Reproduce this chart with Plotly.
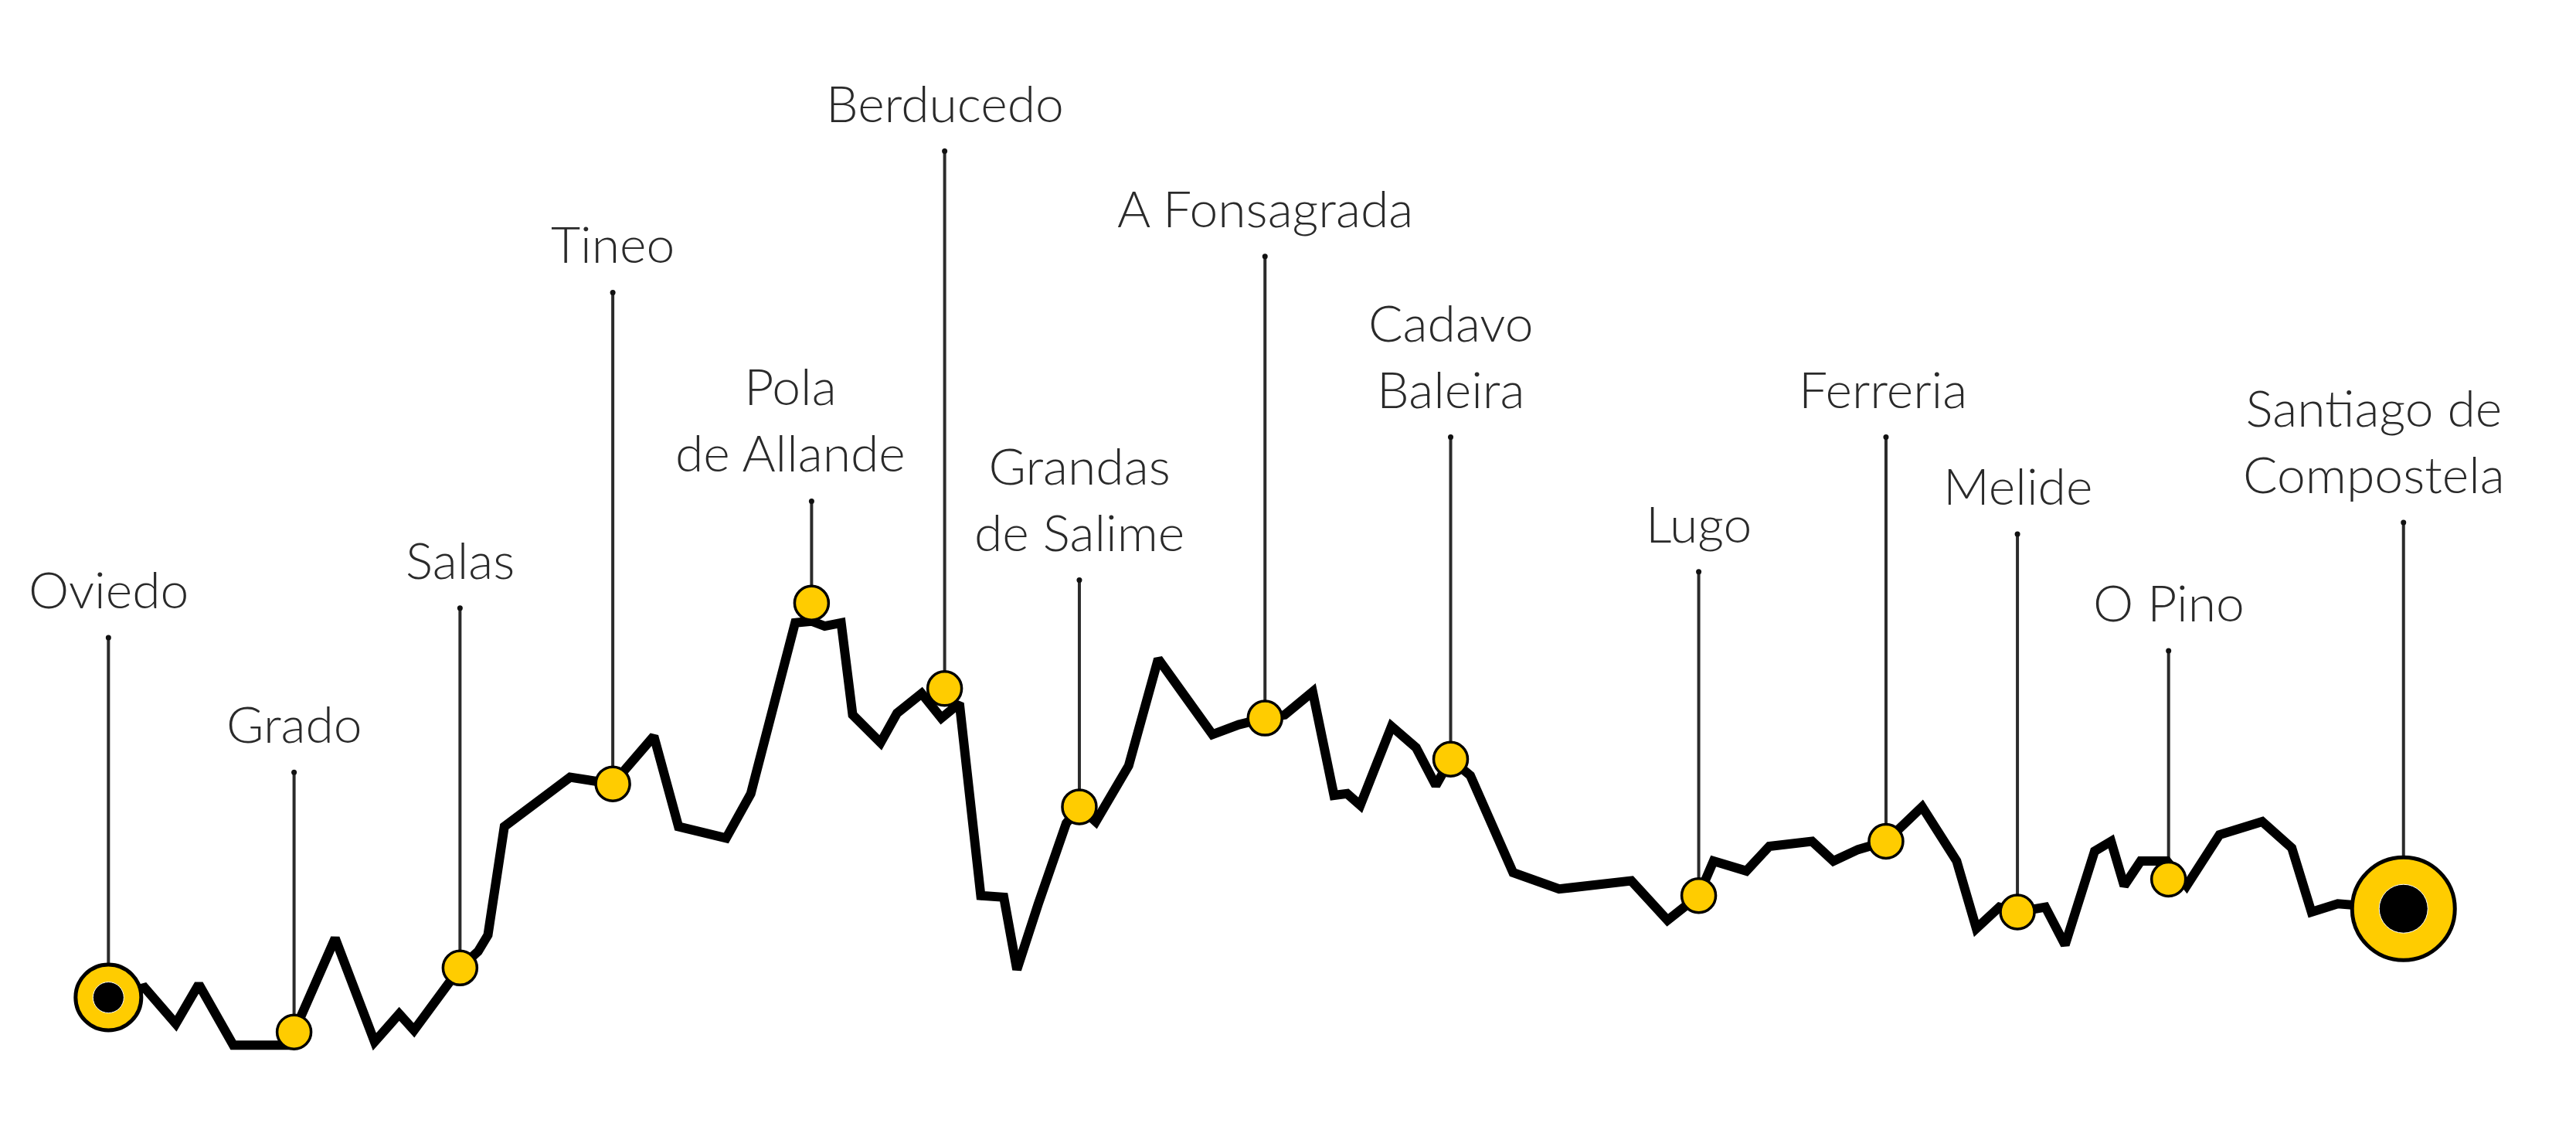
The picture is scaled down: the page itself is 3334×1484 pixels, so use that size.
import plotly.graph_objects as go

# Elevation profile (distance units along the route, elevation units)
dist = [66, 88, 107, 121, 142, 175, 179, 204, 228, 243, 252, 280, 291, 297, 307, 347, 373, 398, 413, 442,
        457, 484, 494, 502, 512, 519, 536, 546, 561, 573, 584, 597, 611, 619, 632, 649, 657, 667, 687, 705,
        738, 754, 770, 782, 799, 812, 820, 828, 847, 862, 874, 883, 895, 921, 949, 993, 1015, 1034, 1043, 1063,
        1077, 1103, 1116, 1131, 1148, 1170, 1191, 1203, 1217, 1228, 1245, 1257, 1275, 1285, 1293, 1303, 1319, 1331, 1351, 1377,
        1395, 1407, 1423, 1463]
elev = [91, 97, 75, 99, 62, 62, 70, 127, 64, 81, 71, 109, 119, 129, 195, 225, 221, 250, 195, 188,
        215, 319, 320, 317, 319, 263, 246, 264, 276, 261, 270, 153, 152, 108, 148, 197, 207, 198, 232, 297,
        251, 257, 261, 263, 277, 214, 215, 208, 256, 243, 220, 236, 226, 167, 157, 162, 138, 153, 174, 168,
        183, 186, 174, 181, 186, 207, 174, 133, 146, 143, 146, 123, 180, 186, 159, 174, 174, 159, 190, 198,
        182, 143, 148, 145]

# Stages
towns = ["Oviedo", "Grado", "Salas", "Tineo", "Pola<br>de Allande", "Berducedo", "Grandas<br>de Salime",
         "A Fonsagrada", "Cadavo<br>Baleira", "Lugo", "Ferreria", "Melide", "O Pino", "Santiago de<br>Compostela"]
town_dist = [66, 179, 280, 373, 494, 575, 657, 770, 883, 1034, 1148, 1228, 1320, 1463]
town_elev = [91, 70, 109, 221, 331, 279, 207, 261, 236, 153, 186, 143, 163, 145]
leader_top = [310, 228, 328, 520, 393, 606, 345, 542, 432, 350, 432, 373, 302, 380]
label_dist = [66, 179, 280, 373, 481, 575, 657, 770, 883, 1034, 1146, 1228, 1320, 1445]

YELLOW = "#FFCC00"
TEXT = "#2a2a2a"

fig = go.Figure()

# leader lines
lx, ly = [], []
for x, y0, y1 in zip(town_dist, town_elev, leader_top):
    lx += [x, x, None]
    ly += [y0, y1, None]
fig.add_trace(go.Scatter(x=lx, y=ly, mode="lines", line=dict(color="#2b2b2b", width=4),
                         hoverinfo="skip", showlegend=False))
fig.add_trace(go.Scatter(x=town_dist, y=leader_top, mode="markers",
                         marker=dict(size=7, color="#111111", symbol="circle", opacity=1),
                         hoverinfo="skip", showlegend=False))

# profile
fig.add_trace(go.Scatter(x=dist, y=elev, mode="lines", line=dict(color="black", width=12),
                         hoverinfo="skip", showlegend=False))

# intermediate stage markers
mid = slice(1, len(towns) - 1)
fig.add_trace(go.Scatter(x=town_dist[mid], y=town_elev[mid], mode="markers",
                         marker=dict(size=44, color=YELLOW, opacity=1, line=dict(color="black", width=3.5)),
                         hoverinfo="skip", showlegend=False))

# start / end markers
ends_x = [town_dist[0], town_dist[-1]]
ends_y = [town_elev[0], town_elev[-1]]
fig.add_trace(go.Scatter(x=ends_x, y=ends_y, mode="markers",
                         marker=dict(size=[85, 133], color=YELLOW, opacity=1, line=dict(color="black", width=5)),
                         hoverinfo="skip", showlegend=False))
fig.add_trace(go.Scatter(x=ends_x, y=ends_y, mode="markers",
                         marker=dict(size=[40, 63], color="black", opacity=1),
                         hoverinfo="skip", showlegend=False))

for name, x, y in zip(towns, label_dist, leader_top):
    fig.add_annotation(x=x, y=y, text=name, showarrow=False, xanchor="center", yanchor="bottom",
                       yshift=22, font=dict(family="Lato", size=66, color=TEXT, weight=300), align="center")

fig.update_layout(
    width=3334, height=1484,
    margin=dict(l=0, r=0, t=0, b=0),
    paper_bgcolor="white", plot_bgcolor="white",
    xaxis=dict(range=[0, 1568], visible=False, fixedrange=True),
    yaxis=dict(range=[0, 698], visible=False, fixedrange=True),
)

fig.write_html("out.html", config={"displayModeBar": False},
               post_script="document.body.style.margin='0';")
